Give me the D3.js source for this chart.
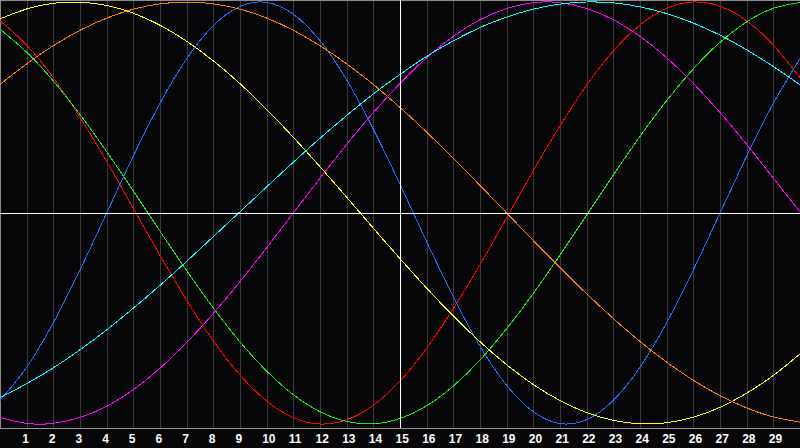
<!DOCTYPE html>
<html>
<head>
<meta charset="utf-8">
<script src="https://cdn.jsdelivr.net/npm/d3@7"></script>
<style>
  html, body { margin: 0; padding: 0; background: #060609; }
  svg { display: block; }
  .tick text { font-family: "Liberation Sans", Arial, sans-serif; font-weight: bold; font-size: 12px; fill: #fff; }
</style>
</head>
<body>
<div id="chart"></div>
<script>
// days shown along the bottom, day 0 .. day 30
var days = [0,1,2,3,4,5,6,7,8,9,10,11,12,13,14,15,16,17,18,19,20,21,22,23,24,25,26,27,28,29,30];
var tickDays = [1,2,3,4,5,6,7,8,9,10,11,12,13,14,15,16,17,18,19,20,21,22,23,24,25,26,27,28,29];
var today = 15;

// cycle values, one per day (-1 .. 1)
var emotional    = [0.911,0.796,0.641,0.453,0.245,0.022,-0.201,-0.413,-0.606,-0.768,-0.891,-0.970,-1.000,-0.980,-0.911,-0.796,-0.641,-0.453,-0.245,-0.022,0.201,0.413,0.606,0.768,0.891,0.970,1.000,0.980,0.911,0.796,0.641];
var intellectual = [0.871,0.762,0.626,0.467,0.291,0.105,-0.086,-0.273,-0.450,-0.611,-0.749,-0.861,-0.942,-0.988,-0.999,-0.974,-0.914,-0.820,-0.697,-0.548,-0.381,-0.199,-0.010,0.180,0.363,0.533,0.683,0.809,0.906,0.970,0.998];
var physical     = [-0.888,-0.731,-0.520,-0.270,0.000,0.270,0.520,0.731,0.888,0.979,0.998,0.942,0.817,0.631,0.398,0.136,-0.136,-0.398,-0.631,-0.817,-0.942,-0.998,-0.979,-0.888,-0.731,-0.520,-0.270,0.000,0.270,0.520,0.731];
var aesthetic    = [0.920,0.967,0.994,0.999,0.984,0.947,0.890,0.814,0.721,0.613,0.491,0.359,0.219,0.075,-0.072,-0.216,-0.356,-0.488,-0.610,-0.719,-0.813,-0.889,-0.946,-0.983,-0.999,-0.994,-0.968,-0.921,-0.854,-0.770,-0.668];
var awareness    = [0.609,0.707,0.793,0.866,0.924,0.966,0.991,1.000,0.991,0.966,0.924,0.866,0.793,0.707,0.609,0.500,0.383,0.259,0.131,0.000,-0.131,-0.259,-0.383,-0.500,-0.609,-0.707,-0.793,-0.866,-0.924,-0.966,-0.991];
var intuition    = [-0.969,-0.997,-0.997,-0.969,-0.916,-0.837,-0.736,-0.614,-0.476,-0.325,-0.165,0.000,0.165,0.325,0.476,0.614,0.736,0.837,0.916,0.969,0.997,0.997,0.969,0.916,0.837,0.736,0.614,0.476,0.325,0.165,0.005];
var spiritual    = [-0.875,-0.809,-0.734,-0.648,-0.554,-0.451,-0.343,-0.229,-0.112,0.006,0.124,0.241,0.354,0.462,0.564,0.657,0.742,0.816,0.879,0.929,0.966,0.990,1.000,0.996,0.977,0.945,0.900,0.843,0.773,0.694,0.608];

var series = [
  { name: "emotional",    color: "#ff0000", values: emotional },
  { name: "intellectual", color: "#11ee11", values: intellectual },
  { name: "physical",     color: "#1e6eff", values: physical },
  { name: "aesthetic",    color: "#ffff00", values: aesthetic },
  { name: "awareness",    color: "#ff7f00", values: awareness },
  { name: "intuition",    color: "#ff00ff", values: intuition },
  { name: "spiritual",    color: "#00ffff", values: spiritual }
];

var width = 800, height = 448;
var plotBottom = 428;

var svg = d3.select("#chart").append("svg")
    .attr("width", width)
    .attr("height", height);

svg.append("rect")
    .attr("width", width)
    .attr("height", height)
    .attr("fill", "#060609");

var x = d3.scaleLinear().domain([0, 30]).range([0, width]);
var y = d3.scaleLinear().domain([-1, 1]).range([424, 2]);

// day grid
svg.append("g").selectAll("line")
    .data(tickDays.filter(function(d) { return d !== today; }))
  .enter().append("line")
    .attr("x1", function(d) { return Math.round(x(d)) + 0.5; })
    .attr("x2", function(d) { return Math.round(x(d)) + 0.5; })
    .attr("y1", 0)
    .attr("y2", plotBottom)
    .attr("stroke", "#3a3a3a")
    .attr("shape-rendering", "crispEdges");

// frame top / left
svg.append("line")
    .attr("x1", 0).attr("x2", width).attr("y1", 0.5).attr("y2", 0.5)
    .attr("stroke", "#8c8c8c").attr("shape-rendering", "crispEdges");
svg.append("line")
    .attr("x1", 0.5).attr("x2", 0.5).attr("y1", 0).attr("y2", plotBottom)
    .attr("stroke", "#8c8c8c").attr("shape-rendering", "crispEdges");

// curves
var line = d3.line()
    .x(function(d, i) { return x(days[i]); })
    .y(function(d) { return y(d); })
    .curve(d3.curveNatural);

svg.append("g").selectAll("path")
    .data(series)
  .enter().append("path")
    .attr("d", function(d) { return line(d.values); })
    .attr("fill", "none")
    .attr("stroke", function(d) { return d.color; })
    .attr("stroke-width", 1)
    .attr("shape-rendering", "crispEdges");

// zero line and today marker
svg.append("line")
    .attr("x1", 0).attr("x2", width)
    .attr("y1", Math.round(y(0)) + 0.5).attr("y2", Math.round(y(0)) + 0.5)
    .attr("stroke", "#ffffff").attr("shape-rendering", "crispEdges");
svg.append("line")
    .attr("x1", Math.round(x(today)) + 0.5).attr("x2", Math.round(x(today)) + 0.5)
    .attr("y1", 0).attr("y2", plotBottom)
    .attr("stroke", "#ffffff").attr("shape-rendering", "crispEdges");

// bottom axis with day labels
var xAxis = d3.axisBottom(x)
    .tickValues(tickDays)
    .tickSize(0)
    .tickPadding(0)
    .tickFormat(d3.format("d"));

var axisG = svg.append("g")
    .attr("class", "x-axis axis")
    .attr("transform", "translate(0," + (plotBottom + 0.5) + ")")
    .call(xAxis);

axisG.select(".domain")
    .attr("stroke", "#9a9a9a")
    .attr("d", "M0,0H" + width)
    .attr("shape-rendering", "crispEdges");

axisG.selectAll(".tick text")
    .attr("text-anchor", "start")
    .attr("x", -5)
    .attr("dy", null)
    .attr("y", 14);
</script>
</body>
</html>
